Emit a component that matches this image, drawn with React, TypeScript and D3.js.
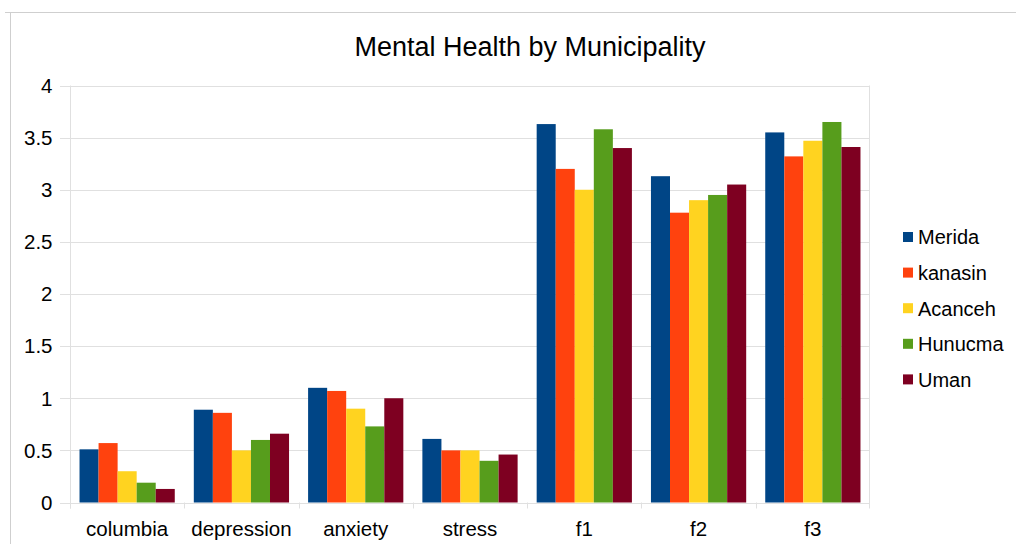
import React from "react";
import * as d3 from "d3";

const categories = ["columbia", "depression", "anxiety", "stress", "f1", "f2", "f3"];
const seriesNames = ["Merida", "kanasin", "Acanceh", "Hunucma", "Uman"];
const merida = [0.51, 0.89, 1.1, 0.61, 3.63, 3.13, 3.55];
const kanasin = [0.57, 0.86, 1.07, 0.5, 3.2, 2.78, 3.32];
const acanceh = [0.3, 0.5, 0.9, 0.5, 3.0, 2.9, 3.47];
const hunucma = [0.19, 0.6, 0.73, 0.4, 3.58, 2.95, 3.65];
const uman = [0.13, 0.66, 1.0, 0.46, 3.4, 3.05, 3.41];
const seriesValues = [merida, kanasin, acanceh, hunucma, uman];
const colors = ["#004586", "#ff420e", "#ffd320", "#579d1c", "#7e0021"];
const yTicks = [0, 0.5, 1, 1.5, 2, 2.5, 3, 3.5, 4];

const W = 1016;
const H = 544;
const left = 70;
const right = 870;
const top = 85.5;
const bottom = 502.5;

export default function App() {
  const x0 = d3.scaleBand<string>().domain(categories).range([left, right]).paddingInner(0).paddingOuter(0);
  const bw = x0.bandwidth();
  const x1 = d3.scaleBand<string>().domain(seriesNames).range([bw / 12, (bw * 11) / 12]).padding(0);
  const y = d3.scaleLinear().domain([0, 4]).range([bottom, top]);
  const font = "'Liberation Sans', Arial, sans-serif";

  return (
    <svg width={W} height={H} style={{ position: "absolute", left: 0, top: 0 }} fontFamily={font}>
      <rect x={0} y={0} width={W} height={H} fill="#fff" />
      {/* outer frame */}
      <line x1={5} x2={W} y1={12.5} y2={12.5} stroke="#cfcfcf" />
      <line x1={10.5} x2={10.5} y1={12.5} y2={H} stroke="#cfcfcf" />
      <text x={530} y={56} textAnchor="middle" fontSize={27} fill="#000">
        Mental Health by Municipality
      </text>
      {/* gridlines */}
      {yTicks.map((t) => (
        <g key={t}>
          <line x1={60} x2={right} y1={Math.round(y(t)) + 0.5} y2={Math.round(y(t)) + 0.5} stroke="#e0e0e0" />
          <text x={52.5} y={y(t) + 7.3} textAnchor="end" fontSize={20.5} fill="#000">
            {t}
          </text>
        </g>
      ))}
      <line x1={left + 0.5} x2={left + 0.5} y1={top} y2={bottom + 6} stroke="#e0e0e0" />
      <line x1={right - 0.5} x2={right - 0.5} y1={top} y2={bottom + 6} stroke="#e0e0e0" />
      {categories.map((c) => (
        <line key={"t" + c} x1={Math.round(x0(c)!) + 0.5} x2={Math.round(x0(c)!) + 0.5} y1={bottom} y2={bottom + 6} stroke="#e0e0e0" />
      ))}
      {/* bars */}
      {seriesNames.map((s, si) => (
        <g key={s} fill={colors[si]}>
          {categories.map((c, ci) => {
            const v = seriesValues[si][ci];
            const bx = x0(c)! + x1(s)!;
            return <rect key={c} x={bx} y={y(v)} width={x1.bandwidth()} height={bottom - y(v)} />;
          })}
        </g>
      ))}
      {/* x labels */}
      {categories.map((c) => (
        <text key={"l" + c} x={x0(c)! + bw / 2} y={536} textAnchor="middle" fontSize={20.5} fill="#000">
          {c}
        </text>
      ))}
      {/* legend */}
      {seriesNames.map((s, i) => {
        const cy = 237 + i * 35.6;
        return (
          <g key={"lg" + s}>
            <rect x={903} y={cy - 5} width={10} height={10} fill={colors[i]} />
            <text x={918} y={cy + 7.3} fontSize={20} fill="#000">
              {s}
            </text>
          </g>
        );
      })}
    </svg>
  );
}
